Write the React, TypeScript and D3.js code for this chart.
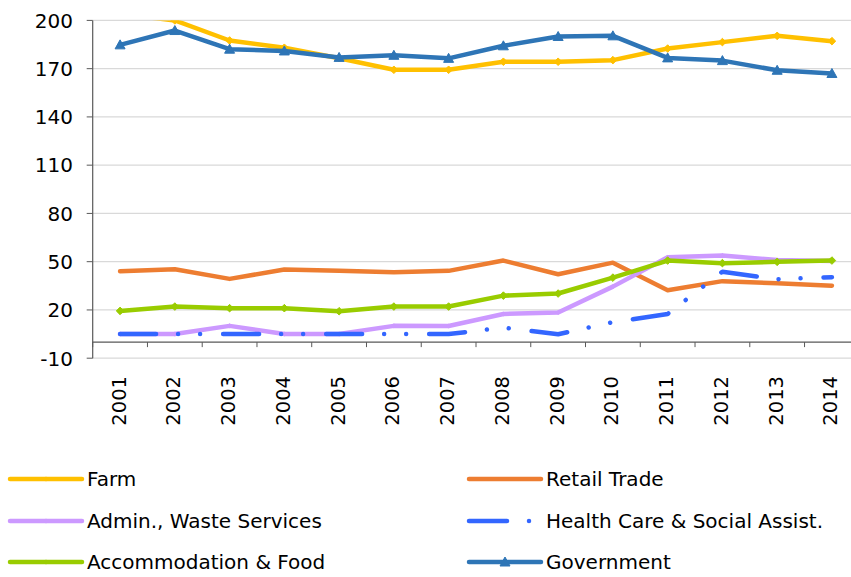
import React from "react";
import * as d3 from "d3";

const years = ["2001","2002","2003","2004","2005","2006","2007","2008","2009","2010","2011","2012","2013","2014"];
const farm = [204, 200, 187.5, 183, 176.5, 169.3, 169.3, 174.3, 174.3, 175.3, 182.5, 186.5, 190.4, 187.1];
const retail = [44.1, 45.3, 39.3, 45.1, 44.3, 43.5, 44.3, 50.7, 42.2, 49.4, 32.3, 37.9, 36.6, 35.1];
const admin = [5, 5, 10.1, 5, 5, 10.1, 10, 17.5, 18.4, 34.5, 52.8, 53.8, 51, 50.5];
const health = [5, 5, 5, 5, 5, 5, 5, 9, 4.9, 12.4, 17.5, 43.8, 39.1, 40.4];
const accom = [19.4, 22.1, 21.1, 21.1, 19.2, 22.1, 22.1, 28.9, 30.2, 40.1, 50.7, 49.1, 49.9, 50.7];
const gov = [184.8, 193.7, 182.1, 181, 177, 178.3, 176.4, 184.2, 190, 190.4, 176.7, 175, 169, 167];
const yTicks = [-10, 20, 50, 80, 110, 140, 170, 200];

type Series = { name: string; values: number[]; color: string; marker: "none" | "diamond" | "triangle" | "small"; dash?: string };

const series: Series[] = [
  { name: "Farm", values: farm, color: "#FFC000", marker: "diamond" },
  { name: "Retail Trade", values: retail, color: "#ED7D31", marker: "none" },
  { name: "Admin., Waste Services", values: admin, color: "#CC99FF", marker: "small" },
  { name: "Health Care & Social Assist.", values: health, color: "#3366FF", marker: "none", dash: "36 22 0.01 22 0.01 23" },
  { name: "Accommodation & Food", values: accom, color: "#99CC00", marker: "diamond" },
  { name: "Government", values: gov, color: "#2E75B6", marker: "triangle" },
];

const FONT = "'DejaVu Sans', sans-serif";

function Marker({ kind, x, y, color }: { kind: string; x: number; y: number; color: string }) {
  if (kind === "diamond") {
    const s = 3.8;
    return <path d={`M${x},${y - s}L${x + s},${y}L${x},${y + s}L${x - s},${y}Z`} fill={color} stroke={color} strokeWidth={1} />;
  }
  if (kind === "small") {
    const s = 2.5;
    return <path d={`M${x},${y - s}L${x + s},${y}L${x},${y + s}L${x - s},${y}Z`} fill={color} />;
  }
  if (kind === "triangle") {
    const s = 5;
    return <path d={`M${x},${y - s}L${x + s},${y + s * 0.8}L${x - s},${y + s * 0.8}Z`} fill={color} stroke={color} strokeWidth={1} />;
  }
  return null;
}

export default function App() {
  const W = 851, H = 577;
  const left = 92.7, right = 859.3, top = 20.4, bottom = 358.2;
  const x = d3.scaleBand<string>().domain(years).range([left, right]);
  const y = d3.scaleLinear().domain([-10, 200]).range([bottom, top]);
  const cx = (yr: string) => (x(yr) as number) + x.bandwidth() / 2;
  const line = d3.line<number>().x((_, i) => cx(years[i])).y((v) => y(v));
  const y0 = y(0);

  const legendCols = [10, 469];
  const legendRows = [479, 521, 562];

  return (
    <svg width={W} height={H} style={{ position: "absolute", left: 0, top: 0 }} fontFamily={FONT}>
      <defs>
        <clipPath id="plot">
          <rect x={left} y={top} width={right - left} height={bottom - top} />
        </clipPath>
      </defs>
      <rect x={0} y={0} width={W} height={H} fill="#fff" />
      {yTicks.map((t) => (
        <g key={t}>
          <line x1={left} x2={right} y1={y(t)} y2={y(t)} stroke="#D9D9D9" strokeWidth={1.2} />
          <line x1={left - 6} x2={left} y1={y(t)} y2={y(t)} stroke="#595959" strokeWidth={1} />
          <text x={73} y={y(t) + 7.3} textAnchor="end" fontSize={20} fill="#000">{t}</text>
        </g>
      ))}
      <line x1={left} x2={left} y1={top} y2={bottom} stroke="#595959" strokeWidth={1.2} />
      <line x1={left} x2={right} y1={y0} y2={y0} stroke="#595959" strokeWidth={1.2} />
      {years.map((yr, i) => (
        <line key={"t" + yr} x1={left + i * x.bandwidth()} x2={left + i * x.bandwidth()} y1={y0} y2={y0 + 5} stroke="#595959" strokeWidth={1} />
      ))}
      {years.map((yr) => (
        <text key={yr} transform={`translate(${cx(yr) + 5.5},376) rotate(-90)`} textAnchor="end" fontSize={19.5} fill="#000">{yr}</text>
      ))}
      <g clipPath="url(#plot)">
        {series.map((s) => (
          <g key={s.name}>
            <path d={line(s.values) || ""} fill="none" stroke={s.color} strokeWidth={4.5} strokeLinejoin="round" strokeLinecap="round" strokeDasharray={s.dash} />
            {s.values.map((v, i) => (
              <Marker key={i} kind={s.marker} x={cx(years[i])} y={y(v)} color={s.color} />
            ))}
          </g>
        ))}
      </g>
      {series.map((s, i) => {
        const col = i % 2;
        const row = Math.floor(i / 2);
        const lx = legendCols[col];
        const ly = legendRows[row];
        return (
          <g key={"lg" + s.name}>
            <line x1={lx} x2={lx + 72} y1={ly} y2={ly} stroke={s.color} strokeWidth={4.5} strokeLinecap="round" strokeDasharray={s.dash ? "38 22 0.01 100" : undefined} />
            <Marker kind={s.marker === "diamond" ? "small" : s.marker} x={lx + 36} y={ly} color={s.color} />
            <text x={lx + 77} y={ly + 7.3} fontSize={20} fill="#000">{s.name}</text>
          </g>
        );
      })}
    </svg>
  );
}
